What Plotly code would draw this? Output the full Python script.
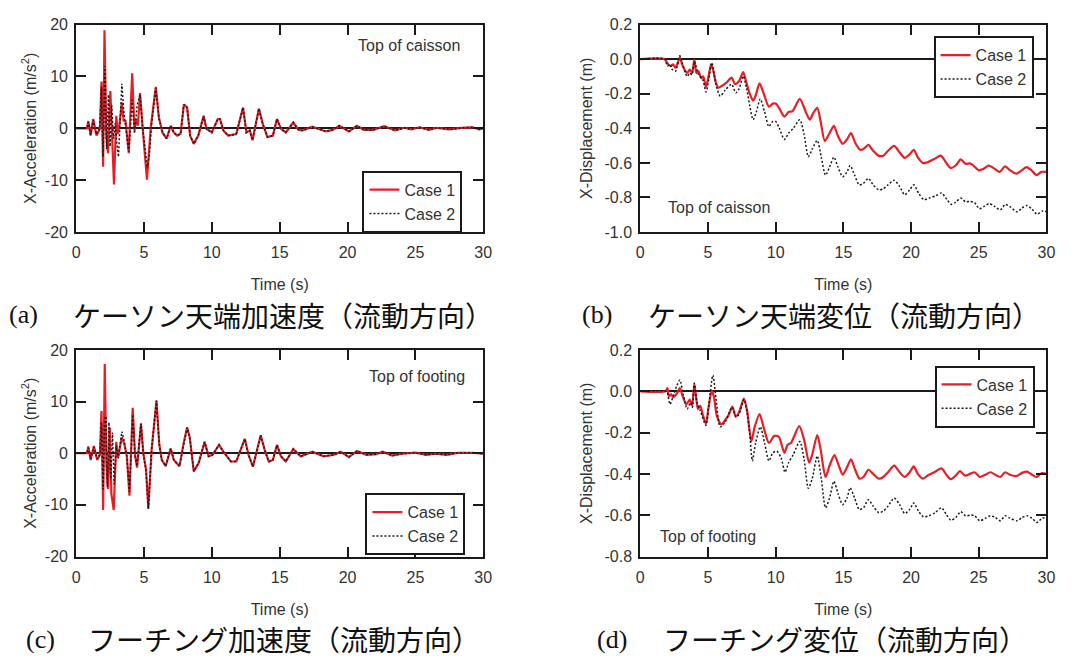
import plotly.graph_objects as go

W, H = 1090, 661

# ---------------- data ----------------
time_ticks = [0, 5, 10, 15, 20, 25, 30]
time_labels = ["0", "5", "10", "15", "20", "25", "30"]
acc_ticks = [-20, -10, 0, 10, 20]
acc_labels = ["-20", "-10", "0", "10", "20"]
disp_ticks_b = [-1.0, -0.8, -0.6, -0.4, -0.2, 0.0, 0.2]
disp_labels_b = ["-1.0", "-0.8", "-0.6", "-0.4", "-0.2", "0.0", "0.2"]
disp_ticks_d = [-0.8, -0.6, -0.4, -0.2, 0.0, 0.2]
disp_labels_d = ["-0.8", "-0.6", "-0.4", "-0.2", "0.0", "0.2"]

# (a) caisson acceleration, early part (t [s], a [m/s2])
caisson_acc_case1_early = [(0, 0), (0.8, 0), (0.9, 1.4), (1.07, -1.4), (1.26, 1.8), (1.5, -1.4), (1.75, -0.1),
    (1.87, 9.0), (1.99, -7.4), (2.09, 18.9), (2.23, -1.7), (2.35, -4.8), (2.52, 7.2), (2.67, -1.7),
    (2.79, -10.8), (2.96, 2.4), (3.08, -1.1), (3.2, 0.8), (3.37, 5.0), (3.5, 1.5), (3.64, 1.4),
    (3.88, -4.8), (4.13, 10.6), (4.3, -0.4), (4.42, 1.8), (4.55, 0.5), (4.71, 6.8), (4.9, 0.2),
    (5.22, -9.9), (5.5, 0.2), (5.87, 8.0), (6.1, 2.1), (6.36, -0.8)]
caisson_acc_case2_early = [(0, 0), (0.8, 0), (0.9, 1.2), (1.07, -1.2), (1.26, 1.6), (1.5, -1.2), (1.75, 0),
    (1.87, 8.0), (1.98, -5.5), (2.12, 12.0), (2.25, -4.0), (2.38, 6.5), (2.5, -3.5), (2.62, 4.5),
    (2.75, -2.0), (2.88, 1.0), (3.0, -3.0), (3.12, -5.5), (3.37, 8.6), (3.5, 3.5), (3.62, 1.0),
    (3.88, -4.5), (4.13, 5.5), (4.3, -1.0), (4.5, 4.5), (4.71, 6.5), (4.9, 0), (5.25, -7.7),
    (5.4, -5.0), (5.55, 0.5), (5.87, 7.8), (6.1, 2.0), (6.36, -0.8)]
caisson_acc_tail = [(6.67, -2.0), (6.97, 0.5), (7.2, -0.8), (7.45, -1.4), (7.7, -1.0), (7.94, 4.6), (8.18, 4.0),
    (8.4, -1.4), (8.67, -3.0), (9.0, -1.4), (9.4, 2.4), (9.6, -0.1), (10.0, -0.8), (10.44, 1.8),
    (10.6, 1.8), (10.85, -0.4), (11.2, -1.4), (11.5, -1.3), (11.8, -1.1), (12.3, 4.0), (12.55, -0.8),
    (12.8, -0.4), (13.0, -2.3), (13.47, 3.8), (13.76, 0.8), (14.1, -1.7), (14.5, -1.4), (14.8, 1.8),
    (15.1, -0.1), (15.45, -0.8), (16.0, 1.1), (16.4, -0.3), (16.7, -0.4), (17.4, 0.3), (17.9, -0.1),
    (18.4, -0.6), (18.9, -0.3), (19.4, 0.5), (20.1, -0.6), (20.7, 0.5), (21.2, -0.3), (21.9, -0.3),
    (22.7, 0.4), (23.5, -0.4), (24.2, 0.1), (24.7, -0.2), (25.3, 0.2), (26.0, -0.3), (26.6, 0.1),
    (27.5, -0.2), (28.4, 0.1), (29.2, 0.2), (29.7, -0.2), (30, 0)]

# (b) caisson displacement (t [s], d [m])
caisson_disp_case1 = [(0, 0), (1.8, 0), (2.0, -0.023), (2.24, -0.04), (2.43, -0.03), (2.6, -0.05), (2.8, -0.013),
    (2.92, 0.01), (3.09, -0.03), (3.26, -0.06), (3.46, -0.08), (3.65, -0.06), (3.82, -0.08), (3.99, -0.004),
    (4.14, -0.08), (4.3, -0.07), (4.5, -0.11), (4.65, -0.1), (4.85, -0.16), (5.04, -0.1), (5.23, -0.03),
    (5.4, -0.07), (5.58, -0.135), (5.77, -0.165), (6.01, -0.155), (6.38, -0.135), (6.74, -0.107),
    (7.0, -0.145), (7.3, -0.126), (7.6, -0.075), (7.8, -0.126), (8.04, -0.19), (8.33, -0.24), (8.52, -0.21),
    (8.81, -0.14), (9.1, -0.195), (9.5, -0.275), (9.79, -0.257), (10.0, -0.257), (10.27, -0.285),
    (10.64, -0.333), (10.96, -0.305), (11.25, -0.3), (11.78, -0.23), (12.22, -0.305), (12.52, -0.35),
    (12.76, -0.314), (13.07, -0.282), (13.32, -0.36), (13.63, -0.474), (13.98, -0.427), (14.3, -0.385),
    (14.6, -0.445), (14.95, -0.49), (15.27, -0.464), (15.56, -0.427), (15.87, -0.483), (16.24, -0.524),
    (16.48, -0.52), (16.85, -0.496), (17.2, -0.53), (17.58, -0.558), (17.95, -0.558), (18.3, -0.53),
    (18.75, -0.502), (19.16, -0.54), (19.53, -0.571), (19.9, -0.55), (20.2, -0.524), (20.5, -0.568),
    (20.87, -0.6), (21.23, -0.596), (21.72, -0.577), (22.2, -0.558), (22.57, -0.596), (22.94, -0.63),
    (23.3, -0.615), (23.67, -0.58), (24.03, -0.605), (24.35, -0.603), (24.64, -0.618), (25.0, -0.643),
    (25.37, -0.634), (25.74, -0.615), (26.1, -0.63), (26.54, -0.652), (26.95, -0.62), (27.32, -0.643),
    (27.8, -0.662), (28.17, -0.643), (28.54, -0.624), (28.9, -0.643), (29.27, -0.671), (29.63, -0.652),
    (30, -0.652)]
caisson_disp_case2 = [(0, 0), (1.8, 0), (2.0, -0.04), (2.2, -0.03), (2.36, -0.06), (2.6, -0.07), (2.92, 0.02),
    (3.09, -0.02), (3.46, -0.1), (3.65, -0.08), (3.82, -0.09), (3.99, -0.013), (4.3, -0.09), (4.6, -0.115),
    (4.85, -0.19), (5.04, -0.125), (5.28, -0.02), (5.58, -0.145), (5.9, -0.214), (6.26, -0.18),
    (6.74, -0.145), (7.06, -0.195), (7.3, -0.17), (7.6, -0.098), (7.84, -0.165), (8.08, -0.267),
    (8.33, -0.35), (8.57, -0.305), (8.86, -0.23), (9.18, -0.305), (9.5, -0.39), (9.79, -0.36), (10.0, -0.36),
    (10.27, -0.4), (10.64, -0.464), (10.96, -0.427), (11.3, -0.4), (11.78, -0.35), (12.1, -0.436),
    (12.41, -0.564), (12.7, -0.52), (13.07, -0.47), (13.37, -0.567), (13.68, -0.671), (13.98, -0.624),
    (14.3, -0.567), (14.6, -0.624), (14.95, -0.68), (15.27, -0.652), (15.5, -0.615), (15.83, -0.671),
    (16.17, -0.727), (16.48, -0.718), (16.85, -0.69), (17.2, -0.727), (17.62, -0.756), (17.95, -0.75),
    (18.3, -0.727), (18.75, -0.7), (19.16, -0.737), (19.53, -0.784), (19.9, -0.756), (20.2, -0.727),
    (20.55, -0.774), (20.94, -0.812), (21.35, -0.803), (21.84, -0.79), (22.25, -0.774), (22.65, -0.812),
    (22.98, -0.84), (23.3, -0.827), (23.67, -0.803), (24.03, -0.825), (24.35, -0.822), (24.69, -0.83),
    (25.05, -0.865), (25.42, -0.85), (25.78, -0.835), (26.15, -0.85), (26.59, -0.872), (26.95, -0.84),
    (27.3, -0.853), (27.85, -0.883), (28.2, -0.86), (28.57, -0.846), (28.94, -0.868), (29.3, -0.897),
    (29.7, -0.878), (30, -0.882)]

# (c) footing acceleration
footing_acc_case1_early = [(0, 0), (0.8, 0), (0.9, 1.3), (1.07, -1.3), (1.31, 1.4), (1.55, -1.3), (1.75, -0.3),
    (1.87, 8.2), (1.99, -11.0), (2.11, 17.3), (2.23, -2.5), (2.35, -6.9), (2.48, 5.0), (2.6, -7.9),
    (2.77, -11.0), (2.96, 2.2), (3.08, -0.9), (3.37, 3.1), (3.57, 1.6), (3.74, -0.6), (3.93, -8.2),
    (4.17, 8.8), (4.34, -0.3), (4.49, -2.8), (4.78, 5.7), (4.95, 0), (5.15, -3.1), (5.32, -10.7),
    (5.56, 0.6), (5.92, 10.2), (6.12, 1.9), (6.31, -1.3)]
footing_acc_case2_early = [(0, 0), (0.8, 0), (0.9, 1.1), (1.07, -1.1), (1.31, 1.2), (1.55, -1.1), (1.75, -0.2),
    (1.87, 6.0), (1.99, -7.0), (2.1, 6.5), (2.2, 7.2), (2.3, -6.5), (2.42, 6.0), (2.55, -5.0), (2.68, 4.0),
    (2.8, -6.0), (2.96, 1.5), (3.1, -1.0), (3.37, 4.2), (3.57, 2.0), (3.74, -0.8), (3.93, -7.5),
    (4.17, 7.5), (4.34, -0.5), (4.49, -2.5), (4.78, 5.8), (4.95, 0), (5.15, -3.5), (5.32, -10.8),
    (5.56, 0.6), (5.92, 10.2), (6.12, 1.9), (6.31, -1.3)]
footing_acc_tail = [(6.6, -2.5), (6.97, 0.9), (7.2, -1.3), (7.62, -2.5), (7.94, 2.2), (8.18, 5.0), (8.37, 3.1),
    (8.67, -3.5), (9.03, -1.9), (9.47, 2.2), (9.76, -0.6), (10.05, -0.3), (10.53, 1.6), (10.85, 0.3),
    (11.4, -1.6), (11.8, -1.6), (12.43, 2.8), (12.7, -0.3), (13.03, -2.6), (13.6, 3.5), (13.9, 0.6),
    (14.2, -1.6), (14.5, -1.3), (14.8, 1.6), (15.1, -0.6), (15.45, -1.6), (16.0, 0.8), (16.55, -0.6),
    (17.4, 0.3), (18.25, -0.6), (19.0, -0.3), (19.5, 0.3), (20.1, -0.75), (20.7, 0.45), (21.4, -0.3),
    (22.1, -0.2), (22.6, 0.3), (23.3, -0.45), (24.0, -0.1), (25.0, 0.1), (25.8, -0.3), (26.5, -0.1),
    (27.3, -0.3), (28.2, 0.1), (29.2, 0.1), (30, -0.1)]

# (d) footing displacement
footing_disp_case1 = [(0, 0), (1.87, 0), (2.0, 0.015), (2.12, -0.024), (2.28, -0.015), (2.43, -0.03),
    (2.58, -0.02), (2.73, -0.008), (2.92, 0.015), (3.09, -0.016), (3.4, -0.063), (3.65, -0.04),
    (3.82, -0.07), (3.99, 0.035), (4.14, -0.04), (4.26, -0.086), (4.43, -0.07), (4.6, -0.11),
    (4.85, -0.157), (5.04, -0.078), (5.28, 0.003), (5.45, -0.03), (5.65, -0.118), (5.97, -0.16),
    (6.26, -0.14), (6.5, -0.118), (6.79, -0.074), (7.06, -0.122), (7.3, -0.1), (7.65, -0.035),
    (7.89, -0.094), (8.2, -0.243), (8.45, -0.172), (8.81, -0.11), (9.1, -0.172), (9.5, -0.25),
    (9.9, -0.216), (10.23, -0.22), (10.64, -0.298), (10.88, -0.259), (11.13, -0.25), (11.74, -0.169),
    (12.1, -0.235), (12.47, -0.345), (12.7, -0.306), (13.07, -0.212), (13.32, -0.282), (13.68, -0.415),
    (13.98, -0.36), (14.34, -0.309), (14.66, -0.36), (14.95, -0.404), (15.27, -0.368), (15.56, -0.33),
    (15.87, -0.38), (16.19, -0.423), (16.48, -0.415), (16.85, -0.38), (17.2, -0.4), (17.62, -0.423),
    (17.95, -0.415), (18.3, -0.392), (18.75, -0.36), (19.16, -0.392), (19.53, -0.415), (19.9, -0.392),
    (20.2, -0.364), (20.5, -0.4), (20.87, -0.423), (21.23, -0.408), (21.72, -0.392), (22.25, -0.373),
    (22.65, -0.408), (22.94, -0.426), (23.3, -0.408), (23.62, -0.387), (23.98, -0.408), (24.35, -0.4),
    (24.69, -0.392), (25.08, -0.415), (25.49, -0.404), (25.86, -0.392), (26.22, -0.404), (26.59, -0.415),
    (26.95, -0.392), (27.3, -0.404), (27.8, -0.41), (28.2, -0.395), (28.57, -0.389), (28.94, -0.404),
    (29.27, -0.415), (29.63, -0.397), (30, -0.4)]
footing_disp_case2 = [(0, 0), (1.87, 0), (2.0, -0.008), (2.19, -0.063), (2.43, -0.024), (2.68, 0.024),
    (2.92, 0.055), (3.17, -0.016), (3.46, -0.086), (3.7, -0.055), (3.85, -0.078), (3.99, 0.04),
    (4.19, -0.055), (4.43, -0.094), (4.85, -0.165), (5.04, -0.078), (5.36, 0.078), (5.6, -0.04),
    (5.9, -0.172), (6.26, -0.149), (6.79, -0.078), (7.06, -0.125), (7.3, -0.11), (7.65, -0.04),
    (7.89, -0.102), (8.08, -0.204), (8.28, -0.337), (8.52, -0.25), (8.86, -0.172), (9.18, -0.25),
    (9.5, -0.337), (9.79, -0.298), (10.08, -0.29), (10.4, -0.322), (10.69, -0.392), (10.96, -0.345),
    (11.3, -0.306), (11.78, -0.243), (12.1, -0.33), (12.41, -0.47), (12.7, -0.423), (13.07, -0.313),
    (13.37, -0.423), (13.68, -0.564), (13.98, -0.517), (14.3, -0.436), (14.6, -0.494), (14.95, -0.549),
    (15.27, -0.517), (15.5, -0.467), (15.83, -0.517), (16.17, -0.572), (16.48, -0.564), (16.85, -0.525),
    (17.2, -0.556), (17.62, -0.588), (17.95, -0.58), (18.3, -0.556), (18.75, -0.517), (19.16, -0.549),
    (19.53, -0.592), (19.9, -0.572), (20.2, -0.541), (20.55, -0.58), (20.92, -0.608), (21.3, -0.603),
    (21.77, -0.588), (22.25, -0.564), (22.6, -0.596), (22.94, -0.624), (23.3, -0.611), (23.67, -0.583),
    (24.03, -0.603), (24.4, -0.599), (24.7, -0.603), (25.08, -0.627), (25.49, -0.615), (25.86, -0.603),
    (26.22, -0.611), (26.6, -0.627), (26.95, -0.603), (27.3, -0.614), (27.85, -0.627), (28.2, -0.611),
    (28.57, -0.603), (28.94, -0.615), (29.3, -0.635), (29.7, -0.614), (30, -0.611)]

series_names = ["Case 1", "Case 2"]
captions_label = ["(a)", "(b)", "(c)", "(d)"]
captions_text = ["ケーソン天端加速度（流動方向）", "ケーソン天端変位（流動方向）",
                 "フーチング加速度（流動方向）", "フーチング変位（流動方向）"]
location_text = ["Top of caisson", "Top of caisson", "Top of footing", "Top of footing"]

# ---------------- layout helpers ----------------
def fx(p):
    return p / W

def fy(p):
    return 1 - p / H

RED = "#e61e26"
BLACK = "#1a1a1a"
TXT = "#333333"
SANS = "Liberation Sans, Arial, sans-serif"

panels = [
    dict(x0=73, x1=485, y0=17, y1=230, yr=[-20, 20], yt=acc_ticks, yl=acc_labels,
         ytitle="X-Acceleration (m/s<sup>2</sup>)",
         s1=caisson_acc_case1_early + caisson_acc_tail, s2=caisson_acc_case2_early + caisson_acc_tail,
         shape="linear", leg=(464, 167), loc=(410, 39, "center"), cap=(3, 68, 315), ystand=4),
    dict(x0=644, x1=1055, y0=17, y1=230, yr=[-1.0, 0.2], yt=disp_ticks_b, yl=disp_labels_b,
         ytitle="X-Displacement (m)",
         s1=caisson_disp_case1, s2=caisson_disp_case2,
         shape="spline", leg=(1042, 29), loc=(670, 205, "left"), cap=(583, 650, 315), ystand=8),
    dict(x0=73, x1=485, y0=351, y1=563, yr=[-20, 20], yt=acc_ticks, yl=acc_labels,
         ytitle="X-Acceleration (m/s<sup>2</sup>)",
         s1=footing_acc_case1_early + footing_acc_tail, s2=footing_acc_case2_early + footing_acc_tail,
         shape="linear", leg=(467, 498), loc=(418, 378, "center"), cap=(20, 83, 648), ystand=4),
    dict(x0=644, x1=1055, y0=351, y1=563, yr=[-0.8, 0.2], yt=disp_ticks_d, yl=disp_labels_d,
         ytitle="X-Displacement (m)",
         s1=footing_disp_case1, s2=footing_disp_case2,
         shape="spline", leg=(1043, 367), loc=(662, 542, "left"), cap=(598, 665, 648), ystand=8),
]

fig = go.Figure()
layout = dict(width=W, height=H, margin=dict(l=0, r=0, t=0, b=0),
              paper_bgcolor="white", plot_bgcolor="white", showlegend=True,
              font=dict(family=SANS, size=16, color=TXT))
annotations = []

for i, p in enumerate(panels):
    n = "" if i == 0 else str(i + 1)
    xa, ya = "x" + n, "y" + n
    legname = "legend" + n
    styles = [(p["s1"], RED, "solid", 2.2), (p["s2"], BLACK, "2px,2px", 1.5)]
    for k, (ser, color, dash, width) in enumerate(styles):
        t = [q[0] for q in ser]
        v = [q[1] for q in ser]
        line = dict(color=color, width=width, dash=dash, shape=p["shape"])
        if p["shape"] == "spline":
            line["smoothing"] = 0.7
        fig.add_trace(go.Scatter(x=t, y=v, mode="lines", name=series_names[k], line=line,
                                 xaxis=xa, yaxis=ya, legend=legname))
    common = dict(showline=True, linewidth=2, linecolor=BLACK, mirror="ticks", ticks="inside",
                  ticklen=10, tickwidth=2, tickcolor=BLACK, showgrid=False,
                  tickfont=dict(family=SANS, size=16, color=TXT))
    layout["xaxis" + n] = dict(common, domain=[fx(p["x0"]), fx(p["x1"])], anchor=ya, range=[0, 30],
                               tickmode="array", tickvals=time_ticks, ticktext=time_labels,
                               zeroline=False, ticklabelstandoff=5,
                               title=dict(text="Time (s)", standoff=19, font=dict(size=16, color=TXT)))
    layout["yaxis" + n] = dict(common, domain=[fy(p["y1"]), fy(p["y0"])], anchor=xa, range=p["yr"],
                               tickmode="array", tickvals=p["yt"], ticktext=p["yl"],
                               zeroline=True, zerolinecolor=BLACK, zerolinewidth=2, ticklabelstandoff=3,
                               title=dict(text=p["ytitle"], standoff=p["ystand"], font=dict(size=16, color=TXT)))
    layout[legname] = dict(x=fx(p["leg"][0]), y=fy(p["leg"][1]), xanchor="right", yanchor="top",
                           bgcolor="white", bordercolor=BLACK, borderwidth=2,
                           font=dict(family=SANS, size=16, color=TXT), tracegroupgap=0)
    lx, ly, la = p["loc"]
    annotations.append(dict(x=fx(lx), y=fy(ly), xref="paper", yref="paper", text=location_text[i],
                            showarrow=False, xanchor=la, yanchor="middle",
                            font=dict(family=SANS, size=16, color=TXT)))
    cx1, cx2, cy = p["cap"]
    annotations.append(dict(x=fx(cx1), y=fy(cy), xref="paper", yref="paper", text=captions_label[i],
                            showarrow=False, xanchor="left", yanchor="middle",
                            font=dict(family="Liberation Serif, Times New Roman, serif", size=26, color="#111")))
    annotations.append(dict(x=fx(cx2), y=fy(cy), xref="paper", yref="paper", text=captions_text[i],
                            showarrow=False, xanchor="left", yanchor="middle",
                            font=dict(family="Noto Sans CJK JP, sans-serif", size=28, color="#111")))

layout["annotations"] = annotations
fig.update_layout(**layout)
fig.write_html("out.html")
